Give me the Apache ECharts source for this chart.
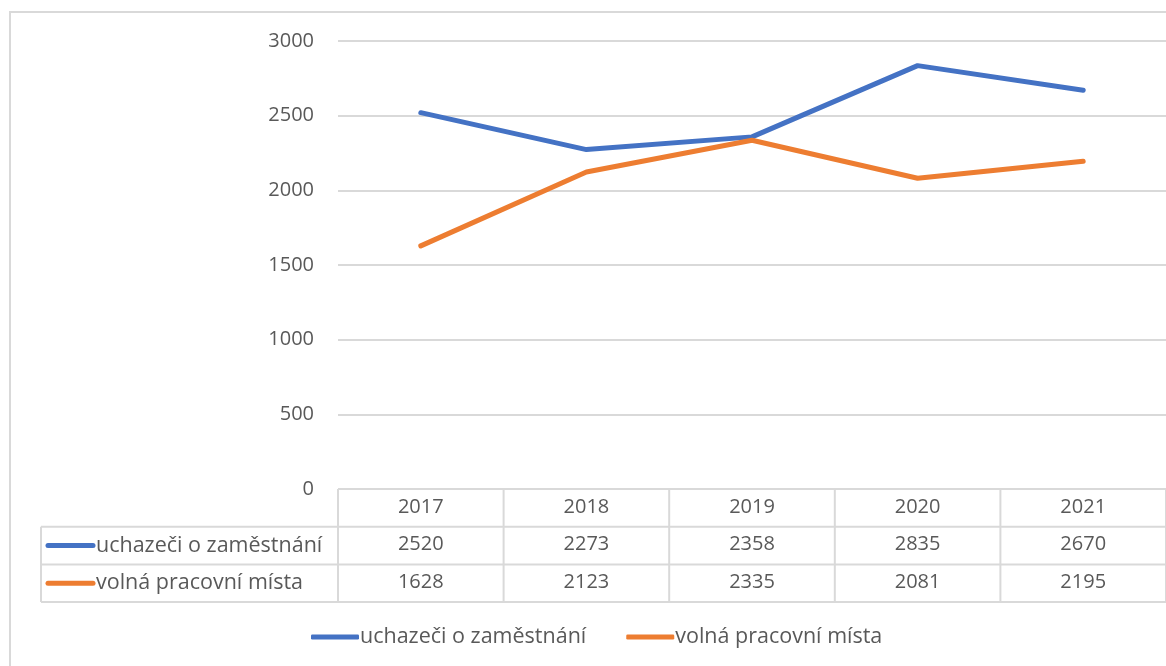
<!DOCTYPE html>
<html>
<head>
<meta charset="utf-8">
<script src="https://cdn.jsdelivr.net/npm/echarts@6/dist/echarts.min.js"></script>
<style>
  html, body { margin: 0; padding: 0; background: #fff; }
  #main { width: 1166px; height: 666px; }
</style>
</head>
<body>
<div id="main"></div>
<script>
  // data
  var years = ['2017', '2018', '2019', '2020', '2021'];
  var uchazeci = [2520, 2273, 2358, 2835, 2670];
  var volnaMista = [1628, 2123, 2335, 2081, 2195];
  var seriesNames = ['uchazeči o zaměstnání', 'volná pracovní místa'];
  var colors = ['#4472c4', '#ed7d31'];

  var font = '"Open Sans", "Noto Sans", sans-serif';
  var textColor = '#595959';
  var lineColor = '#d9d9d9';
  var rowH = 37.7;

  var myChart = echarts.init(document.getElementById('main'));

  var valueAxis = function (data, offset) {
    return {
      type: 'category',
      gridIndex: 0,
      position: 'bottom',
      offset: offset,
      data: data,
      axisLine: { show: false },
      axisTick: { show: false },
      axisLabel: { color: textColor, fontFamily: font, fontSize: 20, margin: 8 }
    };
  };

  var option = {
    animation: false,
    grid: { left: 338, right: 0, top: 41, bottom: 177 },
    xAxis: [
      valueAxis(years, 0),
      valueAxis(uchazeci.map(String), rowH),
      valueAxis(volnaMista.map(String), rowH * 2)
    ],
    yAxis: {
      type: 'value',
      min: 0,
      max: 3000,
      interval: 500,
      axisLine: { show: false },
      axisTick: { show: false },
      axisLabel: {
        color: textColor, fontFamily: font, fontSize: 20, margin: 24,
        formatter: function (v) { return String(v); }
      },
      splitLine: { lineStyle: { color: lineColor, width: 2 } }
    },
    legend: {
      left: 306,
      top: 621,
      itemGap: 40,
      itemWidth: 48,
      itemHeight: 5,
      icon: 'roundRect',
      textStyle: { color: textColor, fontFamily: font, fontSize: 21.5, padding: [0, 0, 0, -4] },
      data: seriesNames
    },
    series: [
      {
        name: seriesNames[0],
        type: 'line',
        data: uchazeci,
        showSymbol: false,
        symbol: 'none',
        color: colors[0],
        lineStyle: { width: 5, cap: 'round', join: 'round' }
      },
      {
        name: seriesNames[1],
        type: 'line',
        data: volnaMista,
        showSymbol: false,
        symbol: 'none',
        color: colors[1],
        lineStyle: { width: 5, cap: 'round', join: 'round' }
      }
    ]
  };
  myChart.setOption(option);

  // table lines and row headers, placed from the axis scales
  var y0 = myChart.convertToPixel({ yAxisIndex: 0 }, 0);
  var c0 = myChart.convertToPixel({ xAxisIndex: 0 }, years[0]);
  var c1 = myChart.convertToPixel({ xAxisIndex: 0 }, years[1]);
  var step = c1 - c0;
  var leftX = c0 - step / 2;
  var rightX = leftX + step * years.length;
  var tableLeft = 41;
  var ls = { stroke: lineColor, lineWidth: 2 };
  var els = [];

  // outer chart frame
  els.push({ type: 'rect', shape: { x: 10, y: 12, width: 1300, height: 800 },
    style: { fill: null, stroke: lineColor, lineWidth: 2 }, silent: true });

  for (var r = 1; r <= 3; r++) {
    var yy = y0 + rowH * r;
    els.push({ type: 'line', shape: { x1: tableLeft, y1: yy, x2: rightX, y2: yy }, style: ls });
  }
  for (var i = 0; i <= years.length; i++) {
    var xx = leftX + step * i;
    els.push({ type: 'line', shape: { x1: xx, y1: y0, x2: xx, y2: y0 + rowH * 3 }, style: ls });
  }
  els.push({ type: 'line', shape: { x1: tableLeft, y1: y0 + rowH, x2: tableLeft, y2: y0 + rowH * 3 }, style: ls });

  seriesNames.forEach(function (name, k) {
    var cy = y0 + rowH * (k + 1.5);
    els.push({ type: 'line', shape: { x1: 48, y1: cy, x2: 93, y2: cy },
      style: { stroke: colors[k], lineWidth: 5, lineCap: 'round' } });
    els.push({ type: 'text', x: 96, y: cy,
      style: { text: name, fill: textColor, font: '21.5px ' + font, textVerticalAlign: 'middle' } });
  });

  myChart.setOption({ graphic: els });
</script>
</body>
</html>
